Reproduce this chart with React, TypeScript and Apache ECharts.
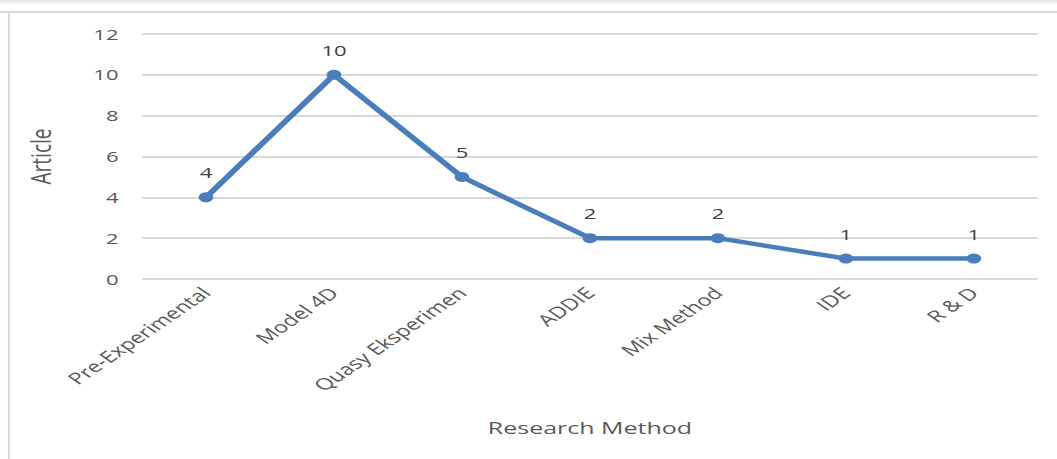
import React, { useEffect, useRef } from "react";
import * as echarts from "echarts";

const categories = ["Pre-Experimental", "Model 4D", "Quasy Eksperimen", "ADDIE", "Mix Method", "IDE", "R & D"];
const articleCounts = [4, 10, 5, 2, 2, 1, 1];
const yTicks = { min: 0, max: 12, interval: 2 };

// The reference picture is horizontally stretched; draw at base width then stretch.
const PAGE_W = 1057;
const PAGE_H = 459;
const BASE_W = 719;
const STRETCH = PAGE_W / BASE_W;

export default function App() {
  const ref = useRef<HTMLDivElement>(null);
  useEffect(() => {
    if (!ref.current) return;
    const chart = echarts.init(ref.current, null, { renderer: "svg" });
    const font = "'Open Sans', 'Noto Sans', sans-serif";
    chart.setOption({
      animation: false,
      backgroundColor: "#ffffff",
      textStyle: { fontFamily: font },
      grid: { left: 96.6, right: 13, top: 34, bottom: 180 },
      graphic: [
        {
          type: "rect",
          shape: { x: 0, y: 0, width: BASE_W, height: 4 },
          style: {
            fill: new echarts.graphic.LinearGradient(0, 0, 0, 1, [
              { offset: 0, color: "#e2e2e2" },
              { offset: 1, color: "#f7f7f7" },
            ]),
          },
          silent: true,
        },
        {
          type: "line",
          shape: { x1: 0, y1: 12, x2: BASE_W, y2: 12 },
          style: { stroke: "#d9d9d9", lineWidth: 2 },
          silent: true,
        },
        {
          type: "rect",
          shape: { x: 5.4, y: 11, width: 1.4, height: PAGE_H - 11 },
          style: { fill: "#d9d9d9" },
          silent: true,
        },
      ],
      xAxis: {
        type: "category",
        data: categories,
        boundaryGap: true,
        axisLine: { show: false },
        axisTick: { show: false },
        axisLabel: {
          rotate: 45,
          interval: 0,
          margin: 11,
          fontSize: 16,
          color: "#595959",
          fontFamily: font,
        },
        name: "Research Method",
        nameLocation: "middle",
        nameGap: 140,
        nameTextStyle: { fontSize: 17, color: "#595959", fontFamily: font },
      },
      yAxis: {
        type: "value",
        min: yTicks.min,
        max: yTicks.max,
        interval: yTicks.interval,
        axisLine: { show: false },
        axisTick: { show: false },
        axisLabel: { fontSize: 15, color: "#595959", margin: 16, fontFamily: font },
        splitLine: { lineStyle: { color: "#d9d9d9", width: 2 } },
        name: "Article",
        nameLocation: "middle",
        nameGap: 60,
        nameTextStyle: { fontSize: 19, color: "#595959", fontFamily: font },
      },
      series: [
        {
          type: "line",
          data: articleCounts,
          symbol: "circle",
          symbolSize: 10,
          lineStyle: { color: "#4a7ebb", width: 4.5 },
          itemStyle: { color: "#4a7ebb" },
          label: {
            show: true,
            position: "top",
            distance: 12,
            fontSize: 15,
            color: "#404040",
            fontFamily: font,
          },
        },
      ],
    });
    return () => chart.dispose();
  }, []);
  return (
    <div
      ref={ref}
      style={{
        position: "absolute",
        left: 0,
        top: 0,
        width: BASE_W,
        height: PAGE_H,
        transform: `scaleX(${STRETCH})`,
        transformOrigin: "0 0",
      }}
    />
  );
}
